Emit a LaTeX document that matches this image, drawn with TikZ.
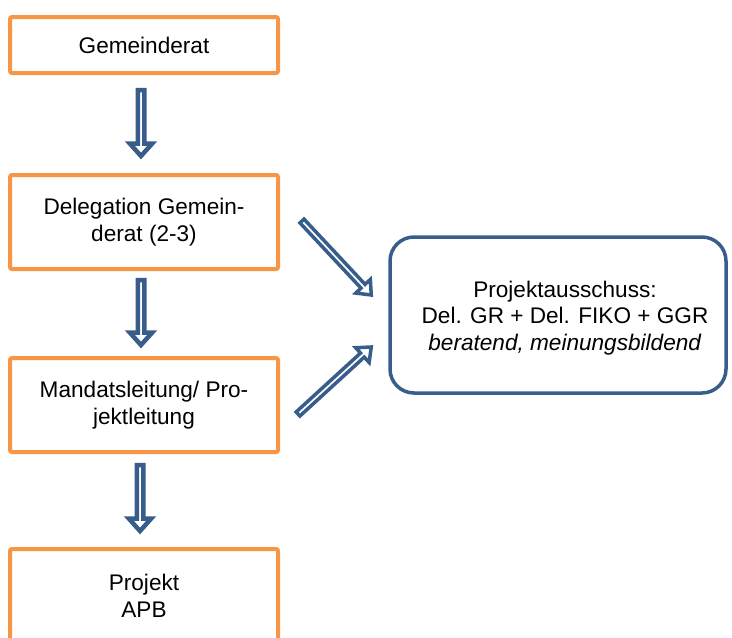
\documentclass[tikz,border=0pt]{standalone}
\usepackage{fontspec}
\setmainfont{Liberation Sans}
\usetikzlibrary{calc}
\definecolor{boxorange}{HTML}{F79646}
\definecolor{darkblue}{HTML}{385D8A}
\tikzset{
  obox/.style={draw=boxorange, line width=4pt, rounded corners=2pt, fill=white,
    minimum width=268pt, minimum height=94pt, align=center, inner sep=0pt,
    font=\fontsize{22.6}{26.5}\selectfont},
  pabox/.style={draw=darkblue, line width=3.5pt, rounded corners=24pt,
    minimum width=336pt, minimum height=156pt, inner sep=0pt},
  patext/.style={align=center, inner sep=0pt, font=\fontsize{22.6}{26.5}\selectfont},
  blkarrow/.style={draw=darkblue, fill=white, line join=miter},
}
% #1 start, #2 tip, #3 half shaft width, #4 half head width, #5 head length, #6 line width
\newcommand\blockarrow[6]{%
  \draw[blkarrow, line width=#6] let \p1=#1, \p2=#2, \n1={atan2(\y2-\y1,\x2-\x1)} in
    ($(\p1)+(\n1+90:#3)$) -- ($(\p2)+(\n1+180:#5)+(\n1+90:#3)$)
    -- ($(\p2)+(\n1+180:#5)+(\n1+90:#4)$) -- (\p2)
    -- ($(\p2)+(\n1+180:#5)+(\n1-90:#4)$) -- ($(\p2)+(\n1+180:#5)+(\n1-90:#3)$)
    -- ($(\p1)+(\n1-90:#3)$) -- cycle;}
\begin{document}
\begin{tikzpicture}[x=1pt, y=-1pt]
\useasboundingbox (0,0) rectangle (732,638);
\node[obox, minimum height=56pt] (g) at (144,45) {Gemeinderat};
\node[obox] (del) at (144,222) {Delegation Gemein-\\derat (2-3)};
\node[obox] (man) at (144,405) {Mandatsleitung/ Pro-\\jektleitung};
\node[obox] (proj) at (144,596) {Projekt\\APB};
\node[pabox] (pa) at (558,315) {};
\node[patext] (pat) at (565,318) {Projektausschuss:\\Del. GR + Del. FIKO + GGR\\\textit{beratend, meinungsbildend}};
\blockarrow{($(g.south)+(-3,15)$)}{($(del.north)+(-3,-17)$)}{3.25pt}{11.25pt}{12.5pt}{4.5pt}
\blockarrow{($(del.south)+(-3,9)$)}{($(man.north)+(-3,-11)$)}{3.25pt}{11.25pt}{12.5pt}{4.5pt}
\blockarrow{($(man.south)+(-4,11)$)}{($(proj.north)+(-4,-16)$)}{3.25pt}{11.25pt}{12.5pt}{4.5pt}
\blockarrow{($(del.east)+(22,-1)$)}{($(pa.west)+(-17,-20)$)}{2.75pt}{10pt}{12pt}{3.5pt}
\blockarrow{($(man.east)+(18,9)$)}{($(pa.west)+(-17,32)$)}{2.75pt}{10pt}{12pt}{3.5pt}
\end{tikzpicture}
\end{document}
